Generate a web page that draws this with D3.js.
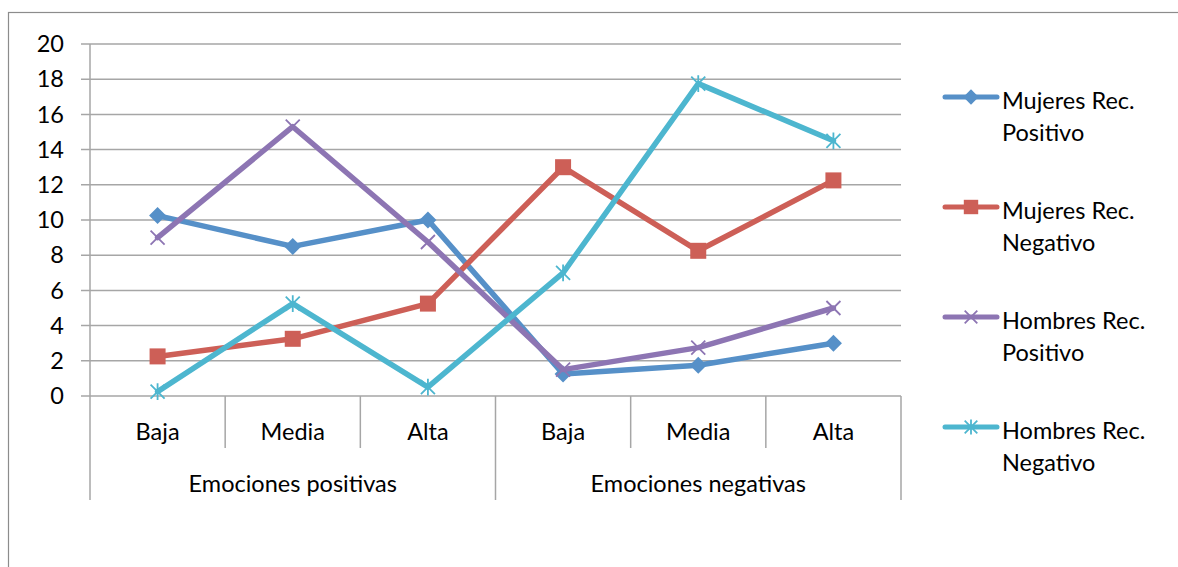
<!DOCTYPE html>
<html><head><meta charset="utf-8">
<script src="https://cdn.jsdelivr.net/npm/d3@7"></script>
<style>body{margin:0;background:#fff}svg{display:block}text{font-family:Lato,"Open Sans",sans-serif;fill:#000}</style>
</head><body><svg id="c" width="1178" height="567"></svg>
<script>
const categories = ["Baja","Media","Alta","Baja","Media","Alta"];
const groups = ["Emociones positivas","Emociones negativas"];
const seriesNames = ["Mujeres Rec. Positivo","Mujeres Rec. Negativo","Hombres Rec. Positivo","Hombres Rec. Negativo"];
const mujeresPositivo = [10.25, 8.5, 10, 1.25, 1.75, 3];
const mujeresNegativo = [2.25, 3.25, 5.25, 13, 8.25, 12.25];
const hombresPositivo = [9, 15.3, 8.75, 1.5, 2.75, 5];
const hombresNegativo = [0.25, 5.25, 0.5, 7, 17.75, 14.5];
const yTicks = [0,2,4,6,8,10,12,14,16,18,20];

const colors = ["#5690C8","#CD5F57","#8D75B3","#4DB6CF"];
const markers = ["diamond","square","x","star"];
const seriesData = [mujeresPositivo, mujeresNegativo, hombresPositivo, hombresNegativo];

const FS = 23.5;
const svg = d3.select("#c");
const L=90, R=901, T=44, B=396;
const x = d3.scaleBand().domain(d3.range(categories.length)).range([L,R]);
const y = d3.scaleLinear().domain([0,20]).range([B,T]);

// outer border
svg.append("rect").attr("x",8.5).attr("y",12.5).attr("width",1180).attr("height",570)
  .attr("fill","none").attr("stroke","#8c8c8c").attr("stroke-width",1.2);

// gridlines
svg.append("g").selectAll("line").data(yTicks).join("line")
  .attr("x1",L-9).attr("x2",R).attr("y1",d=>y(d)).attr("y2",d=>y(d))
  .attr("stroke","#a6a6a6").attr("stroke-width",1.5);
svg.append("line").attr("x1",L).attr("x2",L).attr("y1",T).attr("y2",B).attr("stroke","#a6a6a6").attr("stroke-width",1.5);
svg.append("g").selectAll("text").data(yTicks).join("text")
  .attr("x",64).attr("y",d=>y(d)).attr("dy","0.35em").attr("text-anchor","end")
  .attr("font-size",FS).text(d=>d);

// category axis dividers
const edges = d3.range(categories.length+1).map(i=> i<categories.length ? x(i) : R);
svg.append("g").selectAll("line").data(edges).join("line")
  .attr("x1",d=>d).attr("x2",d=>d).attr("y1",B)
  .attr("y2",(d,i)=> (i%3===0)?500:448)
  .attr("stroke","#a6a6a6").attr("stroke-width",1.5);
svg.append("g").selectAll("text").data(categories).join("text")
  .attr("x",(d,i)=>x(i)+x.bandwidth()/2).attr("y",432).attr("dy","0.35em")
  .attr("text-anchor","middle").attr("font-size",FS).text(d=>d);
svg.append("g").selectAll("text").data(groups).join("text")
  .attr("x",(d,i)=>x(i*3)+x.bandwidth()*1.5).attr("y",484).attr("dy","0.35em")
  .attr("text-anchor","middle").attr("font-size",FS).text(d=>d);

function drawMarker(g, type, cx, cy, color, scale){
  const s = scale||1;
  if(type==="diamond"){
    const r=8.5*s;
    g.append("path").attr("d",`M${cx},${cy-r}L${cx+r},${cy}L${cx},${cy+r}L${cx-r},${cy}Z`).attr("fill",color);
  } else if(type==="square"){
    const r=8*s;
    g.append("rect").attr("x",cx-r).attr("y",cy-r).attr("width",2*r).attr("height",2*r).attr("fill",color);
  } else if(type==="x"){
    const r=7*s;
    g.append("path").attr("d",`M${cx-r},${cy-r}L${cx+r},${cy+r}M${cx-r},${cy+r}L${cx+r},${cy-r}`)
      .attr("stroke",color).attr("stroke-width",1.8).attr("fill","none");
  } else {
    const r=7*s;
    g.append("path").attr("d",`M${cx-r},${cy-r}L${cx+r},${cy+r}M${cx-r},${cy+r}L${cx+r},${cy-r}M${cx},${cy-r*1.2}L${cx},${cy+r*1.2}`)
      .attr("stroke",color).attr("stroke-width",1.8).attr("fill","none");
  }
}

const line = d3.line().x((d,i)=>x(i)+x.bandwidth()/2).y(d=>y(d));
seriesData.forEach((vals,si)=>{
  const g = svg.append("g");
  g.append("path").attr("d",line(vals)).attr("fill","none").attr("stroke",colors[si])
    .attr("stroke-width",5.5).attr("stroke-linejoin","round").attr("stroke-linecap","round");
  vals.forEach((v,i)=>drawMarker(g,markers[si],x(i)+x.bandwidth()/2,y(v),colors[si]));
});

// legend
seriesNames.forEach((name,si)=>{
  const ly = 97 + si*110;
  const g = svg.append("g");
  g.append("line").attr("x1",945).attr("x2",997).attr("y1",ly).attr("y2",ly)
    .attr("stroke",colors[si]).attr("stroke-width",5).attr("stroke-linecap","round");
  drawMarker(g,markers[si],971,ly,colors[si],0.9);
  const parts = name.split(" ");
  const l1 = parts.slice(0,2).join(" "), l2 = parts.slice(2).join(" ");
  g.append("text").attr("x",1002).attr("y",ly+4).attr("dy","0.35em").attr("font-size",FS).text(l1);
  g.append("text").attr("x",1002).attr("y",ly+36).attr("dy","0.35em").attr("font-size",FS).text(l2);
});
</script></body></html>
